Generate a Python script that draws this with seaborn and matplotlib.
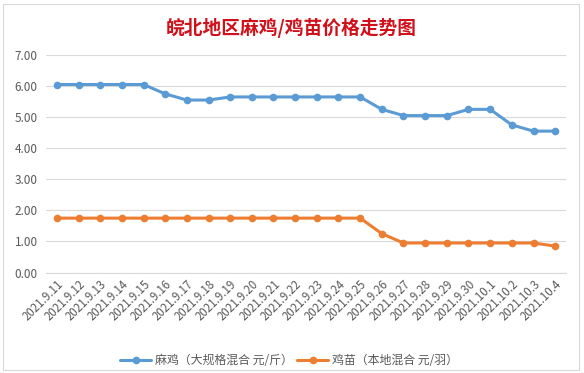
import matplotlib
matplotlib.use("Agg")
import matplotlib.pyplot as plt
import seaborn as sns
import pandas as pd
from matplotlib.patches import Rectangle

dates = ["2021.9.11", "2021.9.12", "2021.9.13", "2021.9.14", "2021.9.15", "2021.9.16",
         "2021.9.17", "2021.9.18", "2021.9.19", "2021.9.20", "2021.9.21", "2021.9.22",
         "2021.9.23", "2021.9.24", "2021.9.25", "2021.9.26", "2021.9.27", "2021.9.28",
         "2021.9.29", "2021.9.30", "2021.10.1", "2021.10.2", "2021.10.3", "2021.10.4"]
maji = [6.05, 6.05, 6.05, 6.05, 6.05, 5.75, 5.55, 5.55, 5.65, 5.65, 5.65, 5.65,
        5.65, 5.65, 5.65, 5.25, 5.05, 5.05, 5.05, 5.25, 5.25, 4.75, 4.55, 4.55]
jimiao = [1.75, 1.75, 1.75, 1.75, 1.75, 1.75, 1.75, 1.75, 1.75, 1.75, 1.75, 1.75,
          1.75, 1.75, 1.75, 1.25, 0.95, 0.95, 0.95, 0.95, 0.95, 0.95, 0.95, 0.85]
series_names = ["麻鸡（大规格混合 元/斤）", "鸡苗（本地混合 元/羽）"]
yticks = [0, 1, 2, 3, 4, 5, 6, 7]
title = "皖北地区麻鸡/鸡苗价格走势图"

sns.set_style("white")
plt.rcParams['font.family'] = ['Noto Sans CJK SC', 'DejaVu Sans']

df = pd.DataFrame({"date": dates * 2,
                   "price": maji + jimiao,
                   "series": [series_names[0]] * len(dates) + [series_names[1]] * len(dates)})

fig = plt.figure(figsize=(5.84, 3.73), dpi=100)
ax = fig.add_axes([46 / 584, 1 - 272.5 / 373, 520 / 584, (272.5 - 55) / 373])

sns.lineplot(data=df, x="date", y="price", hue="series",
             palette=["#5B9BD5", "#ED7D31"], marker="o", markersize=5.5,
             markeredgewidth=0, linewidth=2.2, sort=False, ax=ax, legend=False)

ax.set_xlim(-0.5, len(dates) - 0.5)
ax.set_ylim(0, 7)
ax.set_yticks(yticks)
ax.set_yticklabels([f"{v:.2f}" for v in yticks], fontsize=8.5, color="#595959")
ax.set_xticks(range(len(dates)))
ax.set_xticklabels(dates, rotation=45, ha="right", rotation_mode="anchor",
                   fontsize=8.3, color="#595959")
ax.tick_params(axis="y", length=0, pad=6)
ax.tick_params(axis="x", length=0, pad=4)
ax.grid(axis="y", color="#D9D9D9", linewidth=0.8)
ax.set_axisbelow(True)
for s in ["top", "right", "left"]:
    ax.spines[s].set_visible(False)
ax.spines["bottom"].set_color("#D9D9D9")
ax.spines["bottom"].set_linewidth(0.8)
ax.set_xlabel("")
ax.set_ylabel("")

lines = ax.get_lines()[:2]
fig.legend(lines, series_names, loc="center", bbox_to_anchor=(289 / 584, 1 - 361 / 373),
           ncol=2, frameon=False, fontsize=8.6, labelcolor="#595959",
           handlelength=2.6, columnspacing=0.4, handletextpad=0.3)

fig.text(291 / 584, 1 - 28 / 373, title, ha="center", va="center",
         fontsize=13.5, fontweight="bold", color="#D0101A")

fig.patches.append(Rectangle((3 / 584, 3 / 373), 576 / 584, 366 / 373,
                             transform=fig.transFigure, fill=False,
                             edgecolor="#D9D9D9", linewidth=0.8))

fig.savefig("out.png", dpi=100)
